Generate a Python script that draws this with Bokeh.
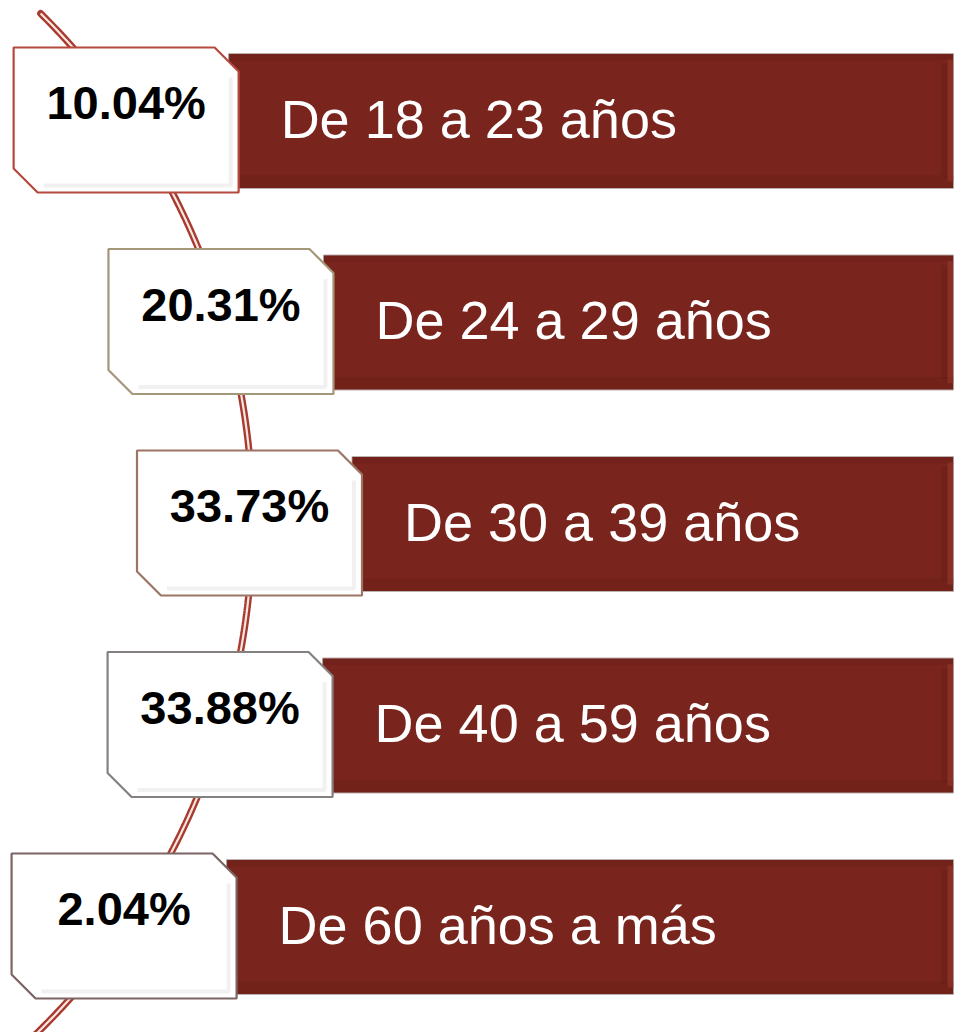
import numpy as np
from bokeh.plotting import figure
from bokeh.models import Range1d, ColumnDataSource
from bokeh.core.properties import value
from bokeh.embed import file_html
from bokeh.resources import INLINE

# ---------------- data ----------------
percentages = [10.04, 20.31, 33.73, 33.88, 2.04]
age_groups = ["De 18 a 23 años", "De 24 a 29 años", "De 30 a 39 años",
              "De 40 a 59 años", "De 60 años a más"]
pct_labels = [f"{v:.2f}%" for v in percentages]

# ---------------- layout / style ----------------
W, H = 955, 1032
ROW_TOP0, ROW_STEP = 47, 201.5
BOX_W, BOX_H, CH = 225, 145, 24
BAR_RIGHT = 953
ARC_CX, ARC_CY, ARC_R = -463, 521, 715
border_colors = ["#b5493d", "#a39679", "#9c7466", "#858080", "#7d6464"]
BAR_COLOR = "#79241c"
FONT = value("'Liberation Sans Narrow', 'Arial Narrow', 'Liberation Sans', Arial, sans-serif")


def arc_x(y):
    return ARC_CX + np.sqrt(ARC_R ** 2 - (np.asarray(y) - ARC_CY) ** 2)


n = len(percentages)
tops = np.array([ROW_TOP0 + i * ROW_STEP for i in range(n)])
centers = tops + BOX_H / 2
box_left = arc_x(centers) - 3 - BOX_W / 2
box_right = box_left + BOX_W

p = figure(width=W, height=H, x_range=Range1d(0, W), y_range=Range1d(H, 0),
           output_backend="svg", toolbar_location=None, min_border=0)
p.axis.visible = False
p.grid.visible = False
p.outline_line_color = None
p.background_fill_color = "white"
p.border_fill_color = "white"

# decorative arc (double line)
ya = np.linspace(13, 1045, 300)
xa = arc_x(ya)
p.line(xa, ya, line_width=7, line_color="#a83b2f", line_cap="round")
p.line(xa, ya, line_width=2.2, line_color="#f8e6e2")

# bars
bar_src = ColumnDataSource(dict(left=box_right - 10, right=[BAR_RIGHT] * n,
                                top=tops + 6, bottom=tops + 141))
p.quad(left="left", right="right", top="top", bottom="bottom", source=bar_src,
       fill_color=BAR_COLOR, line_color="#bdb3b1", line_width=1)
# subtle darker top/bottom bands
p.quad(left=box_right - 10, right=[BAR_RIGHT] * n, top=tops + 6.5, bottom=tops + 13,
       fill_color="#5e1a13", fill_alpha=0.25, line_color=None)
p.quad(left=box_right - 10, right=[BAR_RIGHT] * n, top=tops + 128, bottom=tops + 140.5,
       fill_color="#5e1a13", fill_alpha=0.22, line_color=None)
# right bevel
p.quad(left=[BAR_RIGHT - 12] * n, right=[BAR_RIGHT - 6] * n, top=tops + 16, bottom=tops + 130,
       fill_color="#5e1a13", fill_alpha=0.3, line_color=None)
p.quad(left=[BAR_RIGHT - 6] * n, right=[BAR_RIGHT] * n, top=tops + 12, bottom=tops + 134,
       fill_color="#9a3a30", fill_alpha=0.5, line_color=None)

# white boxes with chamfered corners
xs, ys, ixs, iys = [], [], [], []
for l, r, t in zip(box_left, box_right, tops):
    b = t + BOX_H
    xs.append([l, r - CH, r, r, l + CH, l])
    ys.append([t, t, t + CH, b, b, b - CH])
    # inner bevel (right and bottom edges)
    ixs.append([r - 8, r - 8, l + CH + 6])
    iys.append([t + CH + 6, b - 7, b - 7])
p.patches(xs, ys, fill_color="white", line_color=border_colors, line_width=2.2)
p.multi_line(ixs, iys, line_color="#efefef", line_width=4, line_alpha=0.9)

# percentage labels
p.text(x=box_left + BOX_W / 2, y=tops + 55, text=pct_labels, text_font=FONT,
       text_font_style="bold", text_font_size="47px", text_color="black",
       text_align="center", text_baseline="alphabetic")

# category labels
p.text(x=box_right + 42, y=tops + 71, text=age_groups, text_font=FONT,
       text_font_size="54px", text_color="white",
       text_align="left", text_baseline="alphabetic")

open("out.html", "w").write(file_html(p, INLINE))
